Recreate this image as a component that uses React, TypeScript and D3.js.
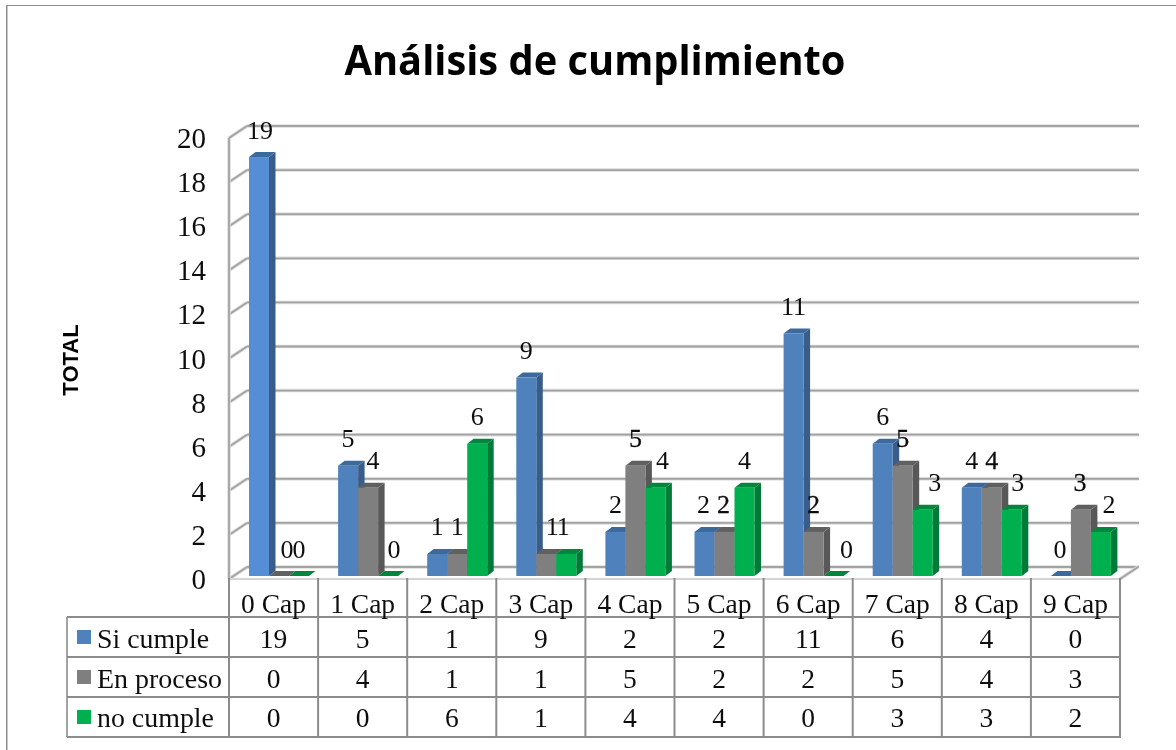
import React from "react";
import * as d3 from "d3";

const categories = ["0 Cap", "1 Cap", "2 Cap", "3 Cap", "4 Cap", "5 Cap", "6 Cap", "7 Cap", "8 Cap", "9 Cap"];
const siCumple = [19, 5, 1, 9, 2, 2, 11, 6, 4, 0];
const enProceso = [0, 4, 1, 1, 5, 2, 2, 5, 4, 3];
const noCumple = [0, 0, 6, 1, 4, 4, 0, 3, 3, 2];
const yTicks = [0, 2, 4, 6, 8, 10, 12, 14, 16, 18, 20];
const seriesNames = ["Si cumple", "En proceso", "no cumple"];
const seriesValues = [siCumple, enProceso, noCumple];

const faces = [
  { front: "#4f81bd", side: "#385d8a", top: "#3d6a9c" },
  { front: "#7f7f7f", side: "#595959", top: "#606060" },
  { front: "#00b050", side: "#007a37", top: "#00863d" },
];

// label nudges (px) per category, per series, as placed in the original
const labelNudge = [
  [1, 8, 0], [0, 5, 6], [0, 0, 0], [0, 6, -3], [0, 0, 7],
  [-1, -1, 0], [0, 0, 13], [0, 0, 12], [0, 0, 6], [-1, -1, 8],
];

const SERIF = "'Liberation Serif', 'Times New Roman', serif";
const GRID = "#a3a3a3";
const TABLE = "#8c8c8c";

const W = 1176, H = 750;
const FRONT_L = 229, FRONT_R = 1120;
const FLOOR_FRONT = 579, BAR_BASE = 576;
const DX = 18, DY = 12, BAR_DX = 6.5, BAR_DY = 5;

const x = d3.scaleBand<string>().domain(categories).range([FRONT_L, FRONT_R]);
const inner = d3.scaleBand<string>().domain(seriesNames).range([20, 80]);
const h = d3.scaleLinear().domain([0, 20]).range([0, 441]);

const poly = (pts: [number, number][]) => d3.line()(pts) + "Z";

function SoftLine(p: { x1: number; y1: number; x2: number; y2: number }) {
  return (
    <g>
      <line {...p} stroke="#dcdcdc" strokeWidth={3.5} />
      <line {...p} stroke={GRID} strokeWidth={1.8} />
    </g>
  );
}

export default function App() {
  const rowTop = [617, 657, 697, 737];
  const vertical = categories.map((c) => x(c) as number).concat([FRONT_R]);
  const textBase = [613, 648, 688, 727];

  return (
    <svg width={W} height={H} viewBox={`0 0 ${W} ${H}`}
      style={{ position: "absolute", left: 0, top: 0, display: "block", background: "#fff" }}>
      <defs>
        <filter id="soft" x="0" y="0" width="100%" height="100%">
          <feGaussianBlur stdDeviation="0.4" />
        </filter>
      </defs>
      <rect width={W} height={H} fill="#fff" />
      <g filter="url(#soft)">
      {/* outer frame */}
      <line x1={6.5} y1={5} x2={6.5} y2={H} stroke="#8f8f8f" strokeWidth={2} />
      <line x1={6} y1={5.5} x2={W} y2={5.5} stroke="#8f8f8f" strokeWidth={1.2} />

      <text x={595} y={74.5} textAnchor="middle" fontFamily="'Open Sans', sans-serif" fontWeight={700}
        fontSize={41} textLength={501} lengthAdjust="spacingAndGlyphs">Análisis de cumplimiento</text>

      <text transform="translate(78,360) rotate(-90)" textAnchor="middle"
        fontFamily="'Liberation Sans', sans-serif" fontWeight={700} fontSize={22}>TOTAL</text>

      {/* walls */}
      {yTicks.map((t) => {
        const yf = FLOOR_FRONT - h(t);
        return (
          <g key={t}>
            <SoftLine x1={FRONT_L + DX} y1={yf - DY} x2={FRONT_R + DX + 1} y2={yf - DY} />
            <SoftLine x1={FRONT_L} y1={yf} x2={FRONT_L + DX} y2={yf - DY} />
            <text x={206} y={yf + 10} textAnchor="end" fontFamily={SERIF} fontSize={29} fill="#111">{t}</text>
          </g>
        );
      })}
      <SoftLine x1={FRONT_L} y1={FLOOR_FRONT - h(20)} x2={FRONT_L} y2={FLOOR_FRONT} />
      <SoftLine x1={FRONT_R} y1={FLOOR_FRONT} x2={FRONT_R + DX} y2={FLOOR_FRONT - DY} />
      <line x1={FRONT_L} y1={FLOOR_FRONT} x2={FRONT_R} y2={FLOOR_FRONT} stroke="#d4d4d4" strokeWidth={2} />

      {/* bars */}
      {categories.map((c, ci) => seriesNames.map((s, si) => {
        const v = seriesValues[si][ci];
        const x0 = (x(c) as number) + (inner(s) as number);
        const x1 = x0 + inner.bandwidth();
        const yt = BAR_BASE - h(v);
        const f = faces[si];
        return (
          <g key={c + s}>
            <path d={poly([[x1, yt], [x1 + BAR_DX, yt - BAR_DY], [x1 + BAR_DX, BAR_BASE - BAR_DY], [x1, BAR_BASE]])} fill={f.side} />
            <path d={poly([[x0, yt], [x0 + BAR_DX, yt - BAR_DY], [x1 + BAR_DX, yt - BAR_DY], [x1, yt]])} fill={f.top} />
            <rect x={x0} y={yt} width={x1 - x0} height={BAR_BASE - yt} fill={ci === 0 && si === 0 ? "#558ed5" : f.front} />
          </g>
        );
      }))}

      {/* data labels */}
      {categories.map((c, ci) => seriesNames.map((s, si) => {
        const v = seriesValues[si][ci];
        const cx = (x(c) as number) + (inner(s) as number) + inner.bandwidth() / 2 + labelNudge[ci][si];
        const heavy = si === 1 && ci > 3;
        return (
          <text key={c + s} x={cx} y={BAR_BASE - h(v) - 27 + 8.5} textAnchor="middle" fontFamily={SERIF} fontSize={26}
            fill="#111" stroke={heavy ? "#111" : "none"} strokeWidth={heavy ? 0.3 : 0}>{v}</text>
        );
      }))}

      {/* data table */}
      {rowTop.map((y) => <line key={y} x1={67} y1={y} x2={FRONT_R} y2={y} stroke={TABLE} strokeWidth={2} />)}
      <line x1={67} y1={rowTop[0]} x2={67} y2={rowTop[3]} stroke={TABLE} strokeWidth={1.6} />
      {vertical.map((vx) => <line key={vx} x1={vx} y1={FLOOR_FRONT - 1} x2={vx} y2={rowTop[3] + 1} stroke={TABLE} strokeWidth={2} />)}
      {categories.map((c) => (
        <text key={c} x={(x(c) as number) + x.bandwidth() / 2} y={textBase[0]} textAnchor="middle"
          fontFamily={SERIF} fontSize={27.5} fill="#111">{c}</text>
      ))}
      {seriesNames.map((s, si) => (
        <g key={s}>
          <rect x={77} y={rowTop[si] + 13} width={14} height={14} fill={faces[si].front} />
          <text x={97} y={textBase[si + 1]} fontFamily={SERIF} fontSize={27.5} fill="#111"
            textLength={si === 0 ? 112 : si === 1 ? 125 : 117} lengthAdjust="spacingAndGlyphs">{s}</text>
          {categories.map((c, ci) => (
            <text key={c} x={(x(c) as number) + x.bandwidth() / 2} y={textBase[si + 1]} textAnchor="middle"
              fontFamily={SERIF} fontSize={27.5} fill="#111">{seriesValues[si][ci]}</text>
          ))}
        </g>
      ))}
      </g>
    </svg>
  );
}
